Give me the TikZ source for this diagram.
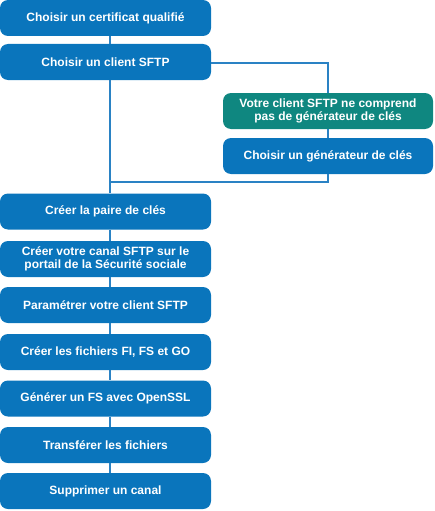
\documentclass[tikz,border=0pt]{standalone}
\usepackage{fontspec}
\setmainfont{Liberation Sans}
\definecolor{boxblue}{HTML}{0A75BC}
\definecolor{boxgreen}{HTML}{0F8780}
\definecolor{lineblue}{HTML}{2A82C4}
\begin{document}
\begin{tikzpicture}[x=1pt,y=-1pt,
  stepbox/.style={fill=boxblue, rounded corners=8pt, minimum width=211pt, minimum height=36pt, inner sep=0pt, text=white, font=\bfseries\fontsize{12}{13.5}\selectfont, align=center},
  notebox/.style={stepbox, fill=boxgreen, minimum width=210pt},
  conn/.style={draw=lineblue, line width=1.6pt}]
\useasboundingbox (0,0) rectangle (434,511);
\coordinate (jA) at (328,63);
\coordinate (jB) at (328,182);
\coordinate (jC) at (110,182);
\node[stepbox] (b1) at (105.5,18) {Choisir un certificat qualifié};
\node[stepbox] (b2) at (105.5,62) {Choisir un client SFTP};
\node[notebox] (g1) at (328,111) {Votre client SFTP ne comprend\\pas de générateur de clés};
\node[stepbox, minimum width=210pt] (r1) at (328,156) {Choisir un générateur de clés};
\node[stepbox] (b3) at (105.5,211.5) {Créer la paire de clés};
\node[stepbox] (b4) at (105.5,259) {Créer votre canal SFTP sur le\\portail de la Sécurité sociale};
\node[stepbox] (b5) at (105.5,305) {Paramétrer votre client SFTP};
\node[stepbox] (b6) at (105.5,352) {Créer les fichiers FI, FS et GO};
\node[stepbox] (b7) at (105.5,398.5) {Générer un FS avec OpenSSL};
\node[stepbox] (b8) at (105.5,445) {Transférer les fichiers};
\node[stepbox] (b9) at (105.5,491) {Supprimer un canal};
\draw[conn] (b1.south -| 110,0) -- (b2.north -| 110,0);
\draw[conn] (b2.south -| 110,0) -- (b3.north -| 110,0);
\draw[conn] (b2.east |- jA) -- (jA) -- (g1.north);
\draw[conn] (g1.south) -- (r1.north);
\draw[conn] (r1.south) -- (jB) -- (jC);
\draw[conn] (b3.south -| 110,0) -- (b4.north -| 110,0);
\draw[conn] (b4.south -| 110,0) -- (b5.north -| 110,0);
\draw[conn] (b5.south -| 110,0) -- (b6.north -| 110,0);
\draw[conn] (b6.south -| 110,0) -- (b7.north -| 110,0);
\draw[conn] (b7.south -| 110,0) -- (b8.north -| 110,0);
\draw[conn] (b8.south -| 110,0) -- (b9.north -| 110,0);
\end{tikzpicture}
\end{document}
